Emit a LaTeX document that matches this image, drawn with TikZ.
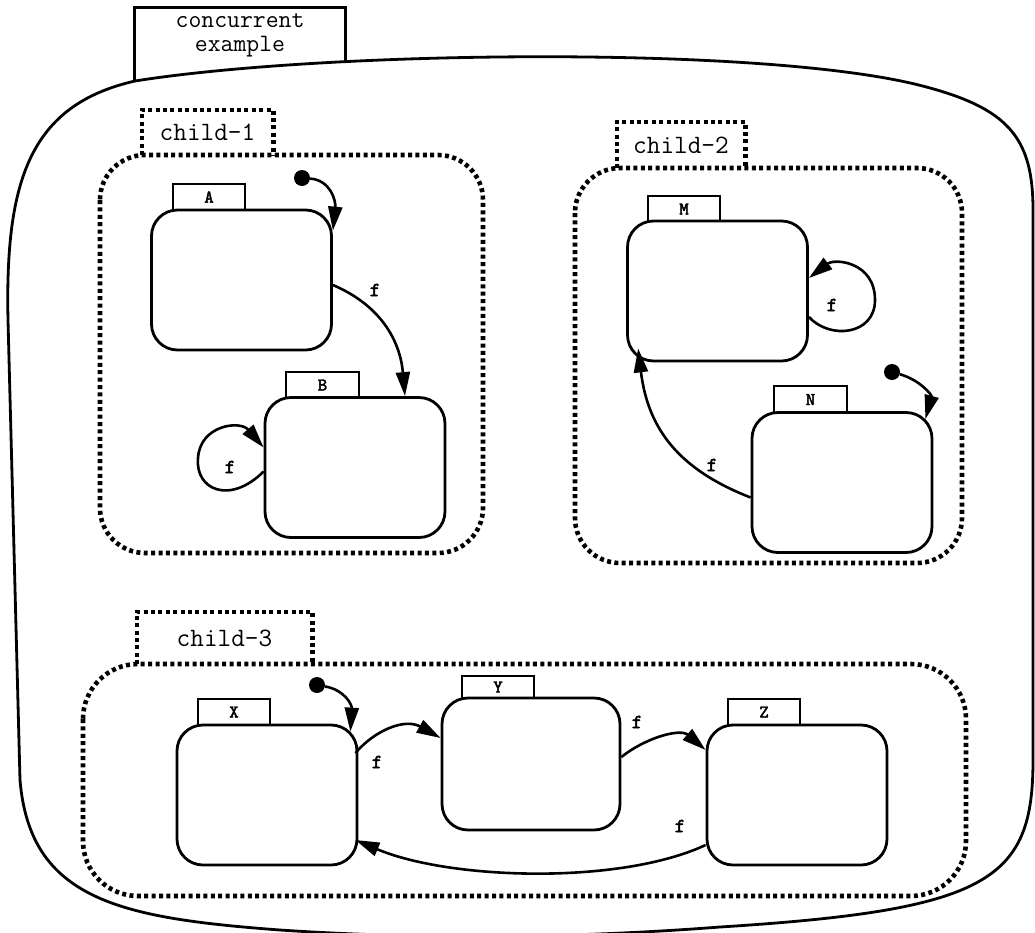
\documentclass[tikz,border=0pt]{standalone}
\usepackage{fontspec}
\newfontfamily\ttbold{lmmono10-regular.otf}[FakeBold=2.5]
\usetikzlibrary{arrows.meta}
\begin{document}
\begin{tikzpicture}[x=1pt,y=-1pt,
  outer/.style={line width=2.8pt},
  dotline/.style={line width=4.6pt, dash pattern=on 4pt off 3.4pt},
  region/.style={dotline, rounded corners=45pt},
  regiontab/.style={inner sep=0pt, font=\ttfamily\fontsize{26.5}{26.5}\selectfont},
  state/.style={draw, line width=2.8pt, rounded corners=26pt, minimum width=180pt, minimum height=140pt, inner sep=0pt},
  tab/.style={inner sep=0pt, minimum width=72pt, minimum height=26pt, font=\ttbold\fontsize{18}{18}\selectfont},
  tabline/.style={line width=2pt},
  trans/.style={line width=2.6pt, -{Triangle[length=24pt,width=14pt]}},
  lab/.style={font=\ttbold\fontsize{20}{20}\selectfont, inner sep=0pt},
  initdot/.style={circle, fill=black, minimum size=16pt, inner sep=0pt},
]
\useasboundingbox (0,0) rectangle (1035,932);

% outer state
\node[regiontab, minimum width=210pt, minimum height=54pt, align=center, font=\ttfamily\fontsize{25}{24}\selectfont] (top) at (240,35) {concurrent\\example};
\draw[outer] ([yshift=-19pt]top.south west) |- (top.north east) -- (top.south east);
\draw[outer] (135,81) .. controls (330,50) and (780,45) .. (930,88) .. controls (1010,110) and (1033,140) .. (1033,210) -- (1033,760) .. controls (1033,880) and (990,910) .. (720,927) .. controls (550,940) and (400,938) .. (280,930) .. controls (120,918) and (30,900) .. (20,780) -- (8,320) .. controls (5,180) and (30,105) .. (135,81);

% child regions
\node[regiontab, minimum width=131pt, minimum height=45pt] (c1) at (207.5,132.5) {child-1};
\draw[dotline] (c1.south west) |- (c1.north east) -- (c1.south east);
\draw[region] (100,155) rectangle (483,553);

\node[regiontab, minimum width=128pt, minimum height=46pt] (c2) at (681,145) {child-2};
\draw[dotline] (c2.south west) |- (c2.north east) -- (c2.south east);
\draw[region] (575,168) rectangle (962,563);

\node[regiontab, minimum width=175pt, minimum height=52pt] (c3) at (224.5,638) {child-3};
\draw[dotline] (c3.south west) |- (c3.north east) -- (c3.south east);
\draw[region, rounded corners=55pt] (83,664) rectangle (966,896);

% states
\node[state] (A) at (241.5,280) {};
\node[tab] (tA) at (209,197) {A};
\draw[tabline] (tA.south west) |- (tA.north east) -- (tA.south east);

\node[state] (B) at (355,467.5) {};
\node[tab] (tB) at (322.5,385) {B};
\draw[tabline] (tB.south west) |- (tB.north east) -- (tB.south east);

\node[state] (M) at (717.5,291) {};
\node[tab] (tM) at (684,209) {M};
\draw[tabline] (tM.south west) |- (tM.north east) -- (tM.south east);

\node[state] (N) at (842,482.5) {};
\node[tab] (tN) at (810.5,399.5) {N};
\draw[tabline] (tN.south west) |- (tN.north east) -- (tN.south east);

\node[state] (X) at (267,795) {};
\node[tab] (tX) at (234,712) {X};
\draw[tabline] (tX.south west) |- (tX.north east) -- (tX.south east);

\node[state, minimum width=178pt, minimum height=132pt] (Y) at (531,764) {};
\node[tab, minimum height=22pt] (tY) at (498,687) {Y};
\draw[tabline] (tY.south west) |- (tY.north east) -- (tY.south east);

\node[state] (Z) at (797,795) {};
\node[tab] (tZ) at (764,712) {Z};
\draw[tabline] (tZ.south west) |- (tZ.north east) -- (tZ.south east);

% initial transitions
\node[initdot] (dA) at (302,178) {};
\draw[trans] (dA) .. controls (330,180) and (336,200) .. ([yshift=-22pt]A.north east);
\node[initdot] (dN) at (892,372) {};
\draw[trans] (dN) .. controls (920,380) and (932,395) .. ([xshift=-8pt,yshift=-8pt]N.north east);
\node[initdot] (dX) at (317,685) {};
\draw[trans] (dX) .. controls (345,690) and (352,705) .. ([xshift=-8pt,yshift=-8pt]X.north east);

% transitions
\draw[trans] ([yshift=-5pt]A.east) .. controls (380,305) and (400,340) .. ([xshift=50pt]B.north);
\node[lab] (fAB) at (375,290) {f};

\draw[trans] ([yshift=-4pt]B.west) .. controls (230,505) and (195,490) .. (198,458) .. controls (200,425) and (240,420) .. ([yshift=20pt]B.west);
\node[lab] (fBB) at (230,467) {f};

\draw[trans] ([yshift=-26pt]M.east) .. controls (830,340) and (875,335) .. (875,300) .. controls (875,262) and (835,258) .. ([yshift=13pt]M.east);
\node[lab] (fMM) at (832,305) {f};

\draw[trans] ([yshift=-15pt]N.west) .. controls (680,470) and (648,430) .. ([xshift=12pt,yshift=14pt]M.south west);
\node[lab] (fNM) at (712,465) {f};

\draw[trans] ([xshift=-3pt,yshift=42pt]X.east) .. controls (375,730) and (405,718) .. ([yshift=26pt]Y.west);
\node[lab] (fXY) at (377,762) {f};

\draw[trans] ([yshift=7pt]Y.east) .. controls (645,738) and (680,728) .. ([yshift=45pt]Z.west);
\node[lab] (fYZ) at (637,722) {f};

\draw[trans] ([yshift=-50pt]Z.west) .. controls (620,885) and (450,880) .. ([xshift=-3pt,yshift=-45pt]X.east);
\node[lab] (fZX) at (680,826) {f};
\end{tikzpicture}
\end{document}
